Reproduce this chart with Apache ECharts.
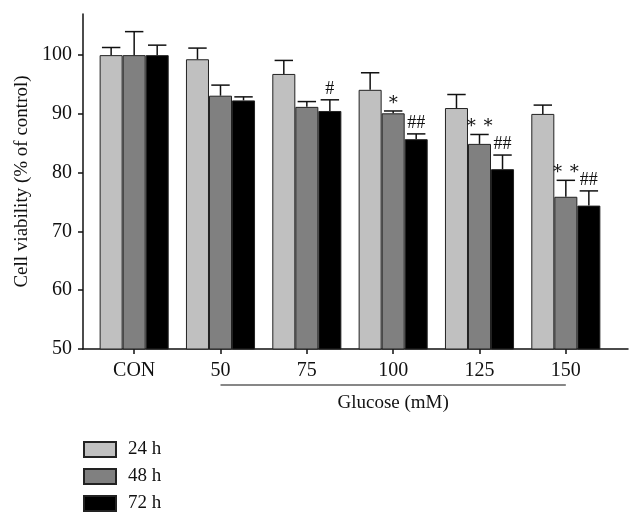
<!DOCTYPE html>
<html>
<head>
<meta charset="utf-8">
<script src="https://cdn.jsdelivr.net/npm/echarts@6/dist/echarts.min.js"></script>
<style>
html,body{margin:0;padding:0;background:#fff;}
#chart{width:642px;height:526px;}
</style>
</head>
<body>
<div id="chart"></div>
<script>
const categories = ['CON', '50', '75', '100', '125', '150'];
const seriesNames = ['24 h', '48 h', '72 h'];
const values24 = [100, 99.3, 96.8, 94.1, 91.0, 90.0];
const values48 = [100, 93.1, 91.2, 90.1, 84.9, 75.9];
const values72 = [100, 92.3, 90.5, 85.7, 80.6, 74.4];
const err24 = [1.3, 1.9, 2.3, 2.9, 2.3, 1.5];
const err48 = [4.0, 1.8, 0.9, 0.4, 1.6, 2.8];
const err72 = [1.7, 0.6, 1.9, 0.9, 2.4, 2.5];
const marks24 = ['', '', '', '', '', ''];
const marks48 = ['', '', '', '\u2217', '\u2217 \u2217', '\u2217 \u2217'];
const marks72 = ['', '', '#', '##', '##', '##'];
const yTicks = [50, 60, 70, 80, 90, 100];
const xAxisTitle = 'Glucose (mM)';
const yAxisTitle = 'Cell viability (% of control)';

const FONT = '"Liberation Serif", "DejaVu Serif", serif';
const colors = ['#c0c0c0', '#808080', '#000000'];
const BAR_FRACTION = 0.8;

function barSeries(name, data, color) {
  return {
    name: name, type: 'bar', xAxisIndex: 0, yAxisIndex: 0,
    data: data, barGap: '0%', barCategoryGap: '20%',
    itemStyle: { color: color, borderColor: '#222', borderWidth: 1 },
    silent: true
  };
}

function errSeries(idx, vals, errs, marks) {
  return {
    name: 'err' + idx, type: 'custom', xAxisIndex: 0, yAxisIndex: 0, z: 5, silent: true,
    data: vals.map((v, i) => [i, v, errs[i]]),
    encode: { x: 0, y: 1 },
    renderItem: function (params, api) {
      const i = api.value(0), v = api.value(1), e = api.value(2);
      const band = api.size([1, 0])[0];
      const bw = band * BAR_FRACTION / 3;
      const base = api.coord([i, v]);
      const top = api.coord([i, v + e]);
      const x = base[0] + (idx - 1) * bw;
      const half = bw * 0.4;
      const children = [
        { type: 'line', shape: { x1: x, y1: base[1], x2: x, y2: top[1] }, style: { stroke: '#111', lineWidth: 1.5 } },
        { type: 'line', shape: { x1: x - half, y1: top[1], x2: x + half, y2: top[1] }, style: { stroke: '#111', lineWidth: 1.5 } }
      ];
      const m = marks[params.dataIndex];
      if (m) {
        children.push({ type: 'text', style: { text: m, x: x, y: top[1] - 11, align: 'center', verticalAlign: 'middle', font: '18px ' + FONT, fill: '#111' } });
      }
      return { type: 'group', children: children };
    }
  };
}

const chart = echarts.init(document.getElementById('chart'), null, { renderer: 'canvas' });
chart.setOption({
  animation: false,
  backgroundColor: '#fff',
  textStyle: { fontFamily: FONT, color: '#111' },
  grid: [
    { left: 91, top: 14, width: 518, bottom: 177 },
    { left: 83, top: 14, right: 14, bottom: 177 }
  ],
  legend: {
    orient: 'vertical', left: 83, top: 440, height: 86, padding: 0,
    itemWidth: 32, itemHeight: 15, itemGap: 8,
    data: seriesNames, icon: 'rect',
    textStyle: { fontFamily: FONT, fontSize: 19, color: '#111', padding: [0, 0, 0, 7], lineHeight: 19 },
    selectedMode: false
  },
  xAxis: [
    {
      type: 'category', gridIndex: 0, data: categories,
      axisLine: { show: false },
      axisTick: { show: true, alignWithLabel: true, length: 5, lineStyle: { color: '#111', width: 1.5 } },
      axisLabel: { fontFamily: FONT, fontSize: 20, color: '#111', margin: 12 },
      splitLine: { show: false }
    },
    {
      type: 'value', gridIndex: 1, min: 0, max: 1,
      axisLine: { show: true, lineStyle: { color: '#111', width: 1.5 } },
      axisTick: { show: false }, axisLabel: { show: false }, splitLine: { show: false }
    }
  ],
  yAxis: [
    {
      type: 'value', gridIndex: 0, min: 50, max: 107,
      axisLine: { show: false }, axisTick: { show: false }, axisLabel: { show: false }, splitLine: { show: false }
    },
    {
      type: 'value', gridIndex: 1, min: 50, max: 107,
      axisLine: { show: true, lineStyle: { color: '#111', width: 1.5 } },
      axisTick: { show: true, inside: false, length: 5, customValues: yTicks, lineStyle: { color: '#111', width: 1.5 } },
      axisLabel: { customValues: yTicks, fontFamily: FONT, fontSize: 20, color: '#111', margin: 11 },
      splitLine: { show: false },
      name: yAxisTitle, nameLocation: 'middle', nameGap: 40,
      nameTextStyle: { fontFamily: FONT, fontSize: 19, color: '#111' }
    }
  ],
  series: [
    barSeries(seriesNames[0], values24, colors[0]),
    barSeries(seriesNames[1], values48, colors[1]),
    barSeries(seriesNames[2], values72, colors[2]),
    errSeries(0, values24, err24, marks24),
    errSeries(1, values48, err48, marks48),
    errSeries(2, values72, err72, marks72)
  ]
});

// Glucose bracket line and title, positioned via the axis scale
const xStart = chart.convertToPixel({ xAxisIndex: 0 }, 1);
const xEnd = chart.convertToPixel({ xAxisIndex: 0 }, categories.length - 1);
const xMid = chart.convertToPixel({ xAxisIndex: 0 }, 3);
const yAxisPix = chart.convertToPixel({ yAxisIndex: 0 }, 50);
chart.setOption({
  graphic: [
    { type: 'line', shape: { x1: xStart, y1: yAxisPix + 36, x2: xEnd, y2: yAxisPix + 36 }, style: { stroke: '#111', lineWidth: 1.2 } },
    { type: 'text', style: { text: xAxisTitle, x: xMid, y: yAxisPix + 54, align: 'center', verticalAlign: 'middle', font: '19px ' + FONT, fill: '#111' } }
  ]
});
</script>
</body>
</html>
